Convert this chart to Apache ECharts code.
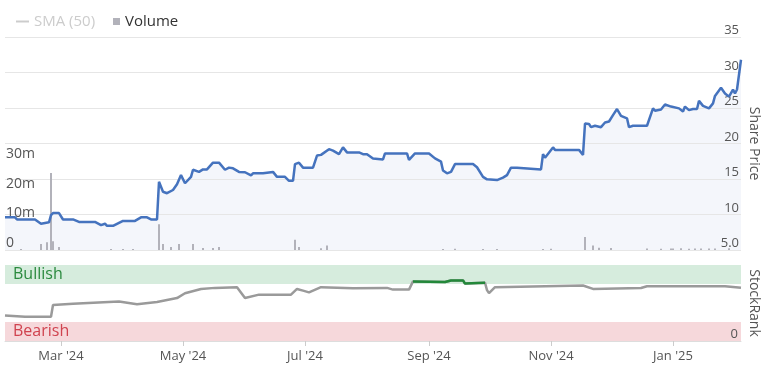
<!DOCTYPE html>
<html><head><meta charset="utf-8">
<script src="https://cdn.jsdelivr.net/npm/echarts@6/dist/echarts.min.js"></script>
<style>html,body{margin:0;padding:0;background:#fff}#c{width:765px;height:365px}</style>
</head><body><div id="c"></div>
<script>
// ---- data ----
const priceDates = [
 '2024-02-02','2024-02-07','2024-02-08','2024-02-17','2024-02-20','2024-02-21','2024-02-24','2024-02-25','2024-02-26','2024-02-29',
 '2024-03-02','2024-03-07','2024-03-10','2024-03-18','2024-03-19','2024-03-21','2024-03-23','2024-03-24','2024-03-27',
 '2024-04-01','2024-04-07','2024-04-10','2024-04-13','2024-04-15','2024-04-18','2024-04-19','2024-04-21','2024-04-23','2024-04-26','2024-04-28','2024-04-30',
 '2024-05-02','2024-05-05','2024-05-06','2024-05-09','2024-05-11','2024-05-13','2024-05-16','2024-05-19','2024-05-20','2024-05-22','2024-05-24','2024-05-26','2024-05-29',
 '2024-06-01','2024-06-04','2024-06-05','2024-06-10','2024-06-11','2024-06-15','2024-06-17','2024-06-21','2024-06-23','2024-06-25','2024-06-26','2024-06-28','2024-06-30',
 '2024-07-05','2024-07-07','2024-07-09','2024-07-10','2024-07-13','2024-07-15','2024-07-18','2024-07-20','2024-07-22','2024-07-28','2024-07-30',
 '2024-08-01','2024-08-04','2024-08-05','2024-08-09','2024-08-10','2024-08-21','2024-08-22','2024-08-25',
 '2024-09-01','2024-09-04','2024-09-07','2024-09-08','2024-09-10','2024-09-12','2024-09-13','2024-09-14','2024-09-23','2024-09-25','2024-09-26','2024-09-28','2024-09-30',
 '2024-10-05','2024-10-08','2024-10-10','2024-10-12','2024-10-15','2024-10-16','2024-10-27','2024-10-28','2024-10-29',
 '2024-11-02','2024-11-03','2024-11-09','2024-11-15','2024-11-17','2024-11-18','2024-11-20','2024-11-21','2024-11-23','2024-11-26','2024-11-28','2024-11-30',
 '2024-12-02','2024-12-04','2024-12-06','2024-12-09','2024-12-10','2024-12-12','2024-12-16','2024-12-17','2024-12-19','2024-12-20','2024-12-22','2024-12-23','2024-12-26','2024-12-28','2024-12-31',
 '2025-01-04','2025-01-06','2025-01-07','2025-01-09','2025-01-11','2025-01-13','2025-01-14','2025-01-16','2025-01-19','2025-01-21','2025-01-22','2025-01-25','2025-01-27','2025-01-28','2025-01-29','2025-01-31',
 '2025-02-01','2025-02-02','2025-02-04'
];
const priceValues = [
 9.6,9.6,9.3,9.3,8.7,8.9,8.9,9.9,10.2,10.2,
 9.3,9.3,8.95,8.95,9.1,8.5,8.7,8.4,8.4,
 9.1,9.1,9.6,9.6,9.3,9.3,14.6,13.2,13.0,13.45,14.25,15.55,
 14.4,15.3,16.3,16.0,16.35,16.35,17.3,17.3,17.05,16.3,16.6,16.5,16.0,
 15.95,15.5,15.8,15.8,16.0,16.0,15.3,15.3,14.75,14.75,17.1,17.3,16.6,
 16.6,18.3,18.4,18.6,19.2,19.0,18.5,19.45,18.75,18.75,18.5,
 18.5,17.9,17.75,17.75,18.6,18.6,17.7,18.6,
 18.6,17.9,17.45,16.2,15.8,16.0,16.0,17.1,17.1,16.65,16.6,15.3,14.95,
 14.85,15.2,15.55,16.6,16.6,16.35,16.35,18.5,18.0,
 19.45,19.1,19.1,19.1,18.4,22.8,22.75,22.3,22.5,22.3,22.95,23.1,
 24.0,24.85,23.9,23.55,22.3,22.5,22.5,22.75,22.5,22.5,24.95,24.6,24.8,25.5,25.2,
 24.95,24.5,25.2,24.7,24.85,24.85,26.0,25.3,24.95,25.65,26.7,27.85,27.05,26.9,26.6,27.6,
 27.05,27.6,31.8
];
const volDates = [
 '2024-02-10','2024-02-20','2024-02-23','2024-02-25','2024-02-26','2024-02-29','2024-03-26','2024-04-01','2024-04-06',
 '2024-04-19','2024-04-21','2024-04-25','2024-04-29','2024-05-06','2024-05-11','2024-05-16','2024-05-19','2024-06-26','2024-06-28',
 '2024-07-09','2024-07-12','2024-09-08','2024-09-14','2024-09-28','2024-10-05','2024-10-28','2024-11-01','2024-11-18','2024-11-22',
 '2024-11-25','2024-12-01','2024-12-19','2024-12-26','2024-12-31','2025-01-01','2025-01-05','2025-01-09','2025-01-12','2025-01-15',
 '2025-01-19','2025-01-22','2025-01-29'
];
const volMillions = [
 0.3,2.0,2.6,26,3,1,0.3,0.3,0.3,
 8.7,2,1,2,2,0.7,0.7,1,3.5,1,
 0.6,1.5,0.3,0.4,0.3,0.3,0.3,0.4,4.4,1.5,
 0.8,0.7,0.5,0.4,0.5,0.5,0.6,0.4,0.5,0.5,
 0.5,0.5,0.6
];
const rankDates = [
 '2024-02-02','2024-02-12','2024-02-25','2024-02-26','2024-03-07','2024-03-30','2024-04-08','2024-04-18','2024-04-28','2024-05-02',
 '2024-05-10','2024-05-17','2024-05-28','2024-06-01','2024-06-08','2024-06-24','2024-06-27','2024-06-30','2024-07-03','2024-07-09',
 '2024-07-25','2024-08-11','2024-08-14','2024-08-22','2024-08-24','2024-09-09','2024-09-12','2024-09-18','2024-09-19','2024-09-29',
 '2024-09-30','2024-10-01','2024-10-04','2024-11-17','2024-11-22','2024-12-16','2024-12-19','2025-01-27','2025-02-04'
];
const rankValues = [
 33.5,32,32,47.4,49,52,48.3,51.4,56.5,62.8,
 68.5,69.9,70.8,56.5,61,61,68.5,66.3,64,70.8,
 69.5,69.9,67.6,67.6,78.4,77.6,79.7,79.7,75.5,76.7,
 67,63,70.8,73,68.5,69.7,72,72,70
];
const bullishLevel = 75;
const xTickDates = ['2024-03-01','2024-05-01','2024-07-01','2024-09-01','2024-11-01','2025-01-01'];
const xTickLabels = ["Mar '24","May '24","Jul '24","Sep '24","Nov '24","Jan '25"];
const priceTicks = [5,10,15,20,25,30,35];
const priceTickLabels = ['5.0','10','15','20','25','30','35'];
const volTicks = [0,10e6,20e6,30e6];
const volTickLabels = ['0','10m','20m','30m'];
const rankTicks = [0];
const rankTickLabels = ['0'];

// ---- build ----
const ts = s => { const p = s.split('-').map(Number); return Date.UTC(p[0], p[1]-1, p[2]); };
const xMin = ts(priceDates[0]), xMax = ts(priceDates[priceDates.length-1]);
const tickTs = xTickDates.map(ts);
const xLabel = v => { for (let i=0;i<tickTs.length;i++) if (Math.abs(tickTs[i]-v) < 43200000) return xTickLabels[i]; return ''; };
const pricePairs = priceDates.map((d,i)=>[ts(d), priceValues[i]]);
const volPairs = volDates.map((d,i)=>[ts(d), volMillions[i]*1e6]);
const rankPairs = rankDates.map((d,i)=>[ts(d), rankValues[i]]);
const rankBullPairs = rankDates.map((d,i)=> rankValues[i] >= bullishLevel ? [ts(d), rankValues[i]] : [ts(d), null]);
const FONT = "'Open Sans', sans-serif";
const GREY = '#555';

const chart = echarts.init(document.getElementById('c'));
chart.setOption({
  animation:false,
  textStyle:{fontFamily:FONT},
  legend:[
    {left:11, top:9, itemWidth:13, itemHeight:2, inactiveColor:'#ccc',
     data:[{name:'SMA (50)', icon:'rect'}], selected:{'SMA (50)':false},
     textStyle:{fontSize:15, color:'#333', fontFamily:FONT}},
    {left:108, top:9, itemWidth:7, itemHeight:7,
     data:[{name:'Volume', icon:'rect'}],
     textStyle:{fontSize:15, color:'#333', fontFamily:FONT}}
  ],
  grid:[
    {left:5, right:24, top:37, height:213, outerBoundsMode:'none', containLabel:false},
    {left:5, right:24, top:265, height:76, outerBoundsMode:'none', containLabel:false}
  ],
  xAxis:[
    {type:'value', gridIndex:0, min:xMin, max:xMax, show:false, splitLine:{show:false}},
    {type:'value', gridIndex:1, min:xMin, max:xMax, z:5,
     axisLine:{show:true, lineStyle:{color:'#ddd'}},
     axisTick:{show:true, customValues:tickTs, length:5, lineStyle:{color:'#ccc'}},
     axisLabel:{customValues:tickTs, formatter:xLabel, color:GREY, fontSize:13, margin:9, fontFamily:FONT},
     splitLine:{show:false}}
  ],
  yAxis:[
    {type:'value', gridIndex:0, position:'right', min:5, max:35, interval:5, z:5,
     name:'Share Price', nameLocation:'middle', nameRotate:-90, nameGap:6, nameMoveOverlap:false,
     nameTextStyle:{color:GREY, fontSize:14, fontFamily:FONT},
     axisLine:{show:false}, axisTick:{show:false},
     axisLabel:{inside:true, margin:2, verticalAlign:'bottom', color:GREY, fontSize:13, fontFamily:FONT, hideOverlap:false,
       formatter:v=>{const i=priceTicks.indexOf(v); return i<0?'':priceTickLabels[i];}},
     splitLine:{lineStyle:{color:'#e6e6e6'}}},
    {type:'value', gridIndex:0, position:'left', min:0, max:72e6, z:5,
     axisLine:{show:false}, axisTick:{show:false}, splitLine:{show:false},
     axisLabel:{inside:true, margin:1, customValues:volTicks, verticalAlign:'bottom', color:GREY, fontSize:14, fontFamily:FONT, hideOverlap:false,
       formatter:v=>{const i=volTicks.indexOf(v); return i<0?'':volTickLabels[i];}}},
    {type:'value', gridIndex:1, position:'right', min:0, max:100, z:5,
     name:'StockRank', nameLocation:'middle', nameRotate:-90, nameGap:6, nameMoveOverlap:false,
     nameTextStyle:{color:GREY, fontSize:14, fontFamily:FONT},
     axisLine:{show:false}, axisTick:{show:false}, splitLine:{show:false},
     axisLabel:{inside:true, margin:3, customValues:rankTicks, verticalAlign:'bottom', color:GREY, fontSize:13, fontFamily:FONT, hideOverlap:false,
       formatter:v=>{const i=rankTicks.indexOf(v); return i<0?'':rankTickLabels[i];}}}
  ],
  series:[
    {type:'line', name:'priceArea', xAxisIndex:0, yAxisIndex:0, data:pricePairs, showSymbol:false, silent:true, z:1,
     lineStyle:{width:0}, areaStyle:{color:'#f4f6fb', opacity:1, origin:'start'}},
    {type:'bar', name:'Volume', xAxisIndex:0, yAxisIndex:1, data:volPairs, barWidth:2, z:6, silent:true,
     itemStyle:{color:'#b2b2ba'}},
    {type:'line', name:'Share Price', xAxisIndex:0, yAxisIndex:0, data:pricePairs, showSymbol:false, silent:true, z:7,
     lineStyle:{width:2.5, color:'#4573be'}, itemStyle:{color:'#4573be'}},
    {type:'line', name:'SMA (50)', xAxisIndex:0, yAxisIndex:0, data:[], showSymbol:false, itemStyle:{color:'#999'}, lineStyle:{color:'#999'}},
    {type:'line', name:'StockRank', xAxisIndex:1, yAxisIndex:2, data:rankPairs, showSymbol:false, silent:true, z:3,
     lineStyle:{width:2.5, color:'#9a9a9a'}, itemStyle:{color:'#9a9a9a'},
     markArea:{silent:true, data:[
       [{yAxis:75, itemStyle:{color:'#d6ecdd'}, label:{show:true, position:'insideLeft', distance:8, color:'#2b8a3e', fontSize:16, fontFamily:FONT, formatter:'Bullish'}}, {yAxis:100}],
       [{yAxis:0, itemStyle:{color:'#f6d8db'}, label:{show:true, position:'insideLeft', distance:8, color:'#d0434f', fontSize:16, fontFamily:FONT, formatter:'Bearish'}}, {yAxis:25}]
     ]}},
    {type:'line', name:'StockRankBullish', xAxisIndex:1, yAxisIndex:2, data:rankBullPairs, showSymbol:false, silent:true, z:4,
     connectNulls:false, lineStyle:{width:2.5, color:'#23883a'}, itemStyle:{color:'#23883a'}}
  ]
});
</script></body></html>
